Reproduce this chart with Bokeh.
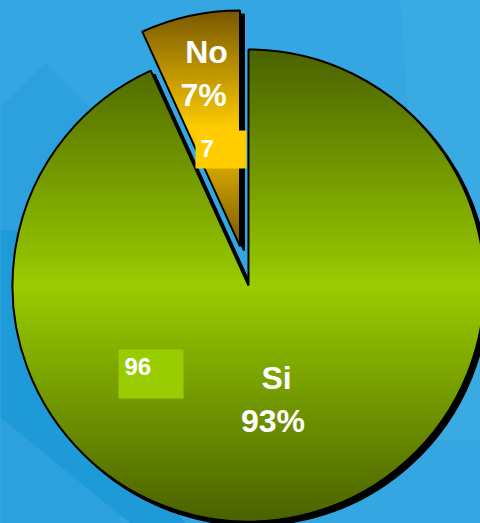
import numpy as np
from bokeh.plotting import figure
from bokeh.models import Range1d, ColumnDataSource
from bokeh.embed import file_html
from bokeh.resources import INLINE
from bokeh.core.properties import value

# ---------------- data ----------------
categories = ["Si", "No"]
values = [96, 7]
center_colors = ["#99cc00", "#ffcc00"]   # gradient middle colour per slice
edge_colors = ["#4a6200", "#785800"]     # gradient top/bottom colour per slice
box_colors = ["#99cc00", "#ffcc00"]      # value label boxes
explode = [0, 40]

# ---------------- layout (reference pixel coords, y down) ----------------
W, H = 480, 523
def Y(py):
    return H - py

PIE_CX, PIE_CY, R = 248, Y(285), 236
SHADOW = (4, -4)
name_pos = [(276, 377), (206, 51)]
pct_pos = [(272.5, 420), (203, 94)]
box_pos = [(118, 183, 349, 398), (195, 246, 130, 168)]
val_pos = [(124, 365.5), (200, 147.5)]
FONT = "Liberation Sans"

p = figure(width=W, height=H, x_range=Range1d(0, W), y_range=Range1d(0, H),
           output_backend="svg", toolbar_location=None, min_border=0)
p.axis.visible = False
p.grid.visible = False
p.outline_line_color = None
BG = "#34a7e2"
p.background_fill_color = BG
p.border_fill_color = BG

# subtle background decoration
deco = [
    ([(0, 107), (45, 62), (120, 137), (120, 523), (0, 523)], "#2ca1de"),
    ([(0, 230), (22, 230), (22, 300), (185, 523), (130, 523), (0, 417)], "#1f9ad8"),
    ([(400, 0), (480, 0), (480, 440), (430, 440)], "#3aaae3"),
]
for pts, col in deco:
    p.patch([q[0] for q in pts], [Y(q[1]) for q in pts], fill_color=col, line_color=None)

# ---------------- geometry from data ----------------
total = float(sum(values))
fracs = [v / total for v in values]
cum = np.concatenate([[0.0], np.cumsum(fracs)])
a_hi = np.pi / 2 - cum[:-1] * 2 * np.pi   # clockwise from 12 o'clock
a_lo = np.pi / 2 - cum[1:] * 2 * np.pi
mids = (a_hi + a_lo) / 2
cxs = [PIE_CX + e * np.cos(m) for e, m in zip(explode, mids)]
cys = [PIE_CY + e * np.sin(m) for e, m in zip(explode, mids)]

src = ColumnDataSource(dict(
    x=cxs, y=cys, start=list(a_lo), end=list(a_hi),
    sx=[c + SHADOW[0] for c in cxs], sy=[c + SHADOW[1] for c in cys],
    color=center_colors, cat=categories, val=values,
))

# shadow
p.wedge(x="sx", y="sy", radius=R, start_angle="start", end_angle="end",
        fill_color="black", line_color="black", line_width=2, source=src)
# base fill
p.wedge(x="x", y="y", radius=R, start_angle="start", end_angle="end",
        fill_color="color", line_color=None, source=src)


def hex2rgb(h):
    h = h.lstrip("#")
    return np.array([int(h[i:i + 2], 16) for i in (0, 2, 4)], dtype=float)


# vertical gradient fill, masked to each slice
for i in range(len(values)):
    cx, cy, st, en = cxs[i], cys[i], a_lo[i], a_hi[i]
    span = (en - st) % (2 * np.pi)
    th = np.linspace(st, st + span, 600)
    xs = np.concatenate([[cx], cx + R * np.cos(th)])
    ys = np.concatenate([[cy], cy + R * np.sin(th)])
    x0, x1 = int(np.floor(xs.min())) - 1, int(np.ceil(xs.max())) + 1
    y0, y1 = int(np.floor(ys.min())) - 1, int(np.ceil(ys.max())) + 1
    nx, ny = x1 - x0, y1 - y0
    gx = x0 + np.arange(nx) + 0.5
    gy = y0 + np.arange(ny) + 0.5
    X, Yg = np.meshgrid(gx, gy)
    dx, dy = X - cx, Yg - cy
    rr = np.hypot(dx, dy)
    ang = np.arctan2(dy, dx)
    inside = (rr <= R) & (((ang - st) % (2 * np.pi)) <= span)
    ymid = (ys.min() + ys.max()) / 2
    half = (ys.max() - ys.min()) / 2
    t = np.clip(np.abs(Yg - ymid) / half, 0, 1)[..., None]
    rgb = hex2rgb(center_colors[i]) * (1 - t) + hex2rgb(edge_colors[i]) * t
    img = np.zeros((ny, nx), dtype=np.uint32)
    view = img.view(dtype=np.uint8).reshape((ny, nx, 4))
    view[..., :3] = np.round(rgb).astype(np.uint8)
    view[..., 3] = np.where(inside, 255, 0).astype(np.uint8)
    p.image_rgba(image=[img], x=x0, y=y0, dw=nx, dh=ny)

# outline
p.wedge(x="x", y="y", radius=R, start_angle="start", end_angle="end",
        fill_color=None, line_color="black", line_width=2, source=src)

# value label boxes
p.quad(left=[b[0] for b in box_pos], right=[b[1] for b in box_pos],
       top=[Y(b[2]) for b in box_pos], bottom=[Y(b[3]) for b in box_pos],
       fill_color=box_colors, line_color=None)

pct_text = ["%d%%" % round(f * 100) for f in fracs]
p.text(x=[q[0] for q in name_pos], y=[Y(q[1]) for q in name_pos], text=categories,
       text_font=value(FONT), text_font_style="bold", text_font_size="32px",
       text_color="white", text_align="center", text_baseline="alphabetic")
p.text(x=[q[0] for q in pct_pos], y=[Y(q[1]) for q in pct_pos], text=pct_text,
       text_font=value(FONT), text_font_style="bold", text_font_size="32px",
       text_color="white", text_align="center", text_baseline="alphabetic")
p.text(x=[q[0] for q in val_pos], y=[Y(q[1]) for q in val_pos], text=[str(v) for v in values],
       text_font=value(FONT), text_font_style="bold", text_font_size="24px",
       text_color="white", text_align="left", text_baseline="alphabetic")

html = file_html(p, INLINE)
html = html.replace("<head>", "<head><style>html,body{margin:0;padding:0;background:#34a7e2;overflow:hidden;}</style>", 1)
open("out.html", "w").write(html)
